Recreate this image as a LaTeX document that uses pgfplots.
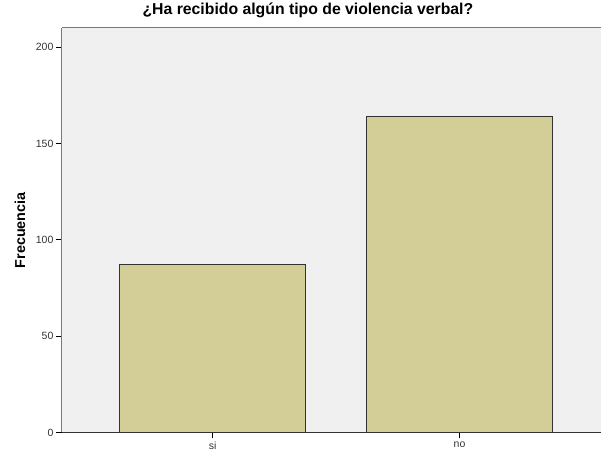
\documentclass[border=0pt]{standalone}
\usepackage{pgfplots}
\pgfplotsset{compat=1.18}
\usepackage{fontspec}
\setmainfont{Liberation Sans}
\definecolor{plotbg}{RGB}{240,240,240}
\definecolor{barfill}{RGB}{211,206,151}
\definecolor{axisgray}{RGB}{120,120,120}

\begin{document}
\begin{tikzpicture}
\begin{axis}[
    scale only axis,
    width=540pt, height=405pt,
    xmin=-0.611, xmax=1.575,
    ymin=0, ymax=210,
    axis lines*=left,
    axis line style={axisgray, line width=1pt},
    axis background/.style={fill=plotbg},
    xtick=data,
    xticklabels={si,no},
    ytick={0,50,100,150,200},
    tick align=outside,
    major tick length=6pt,
    tick style={black, line width=0.8pt},
    ticklabel style={font=\fontsize{10.5}{12}\selectfont, text=black!80},
    yticklabel style={xshift=1pt},
    /pgf/number format/assume math mode=true,
    ylabel={\textbf{Frecuencia}},
    ylabel style={font=\fontsize{14.4}{16}\selectfont, at={(axis description cs:-0.0778,0.5)}, anchor=center},
    title={\textbf{¿Ha recibido algún tipo de violencia verbal?}},
    title style={font=\fontsize{15.8}{18}\selectfont, at={(0.456,1)}, anchor=base, yshift=7pt},
    clip=false,
]
\addplot[ybar, bar width=186pt, fill=barfill, draw=black!80, line width=0.8pt]
    coordinates {(0,87) (1,164)};
\draw[axisgray, line width=1pt] (axis cs:-0.611,210) -- (axis cs:1.575,210);
\draw[black!80, line width=1.2pt] (axis cs:-0.611,0) -- (axis cs:1.575,0);
\end{axis}
\path[use as bounding box] (-62pt,-24pt) rectangle (540pt,432pt);
\end{tikzpicture}
\end{document}
